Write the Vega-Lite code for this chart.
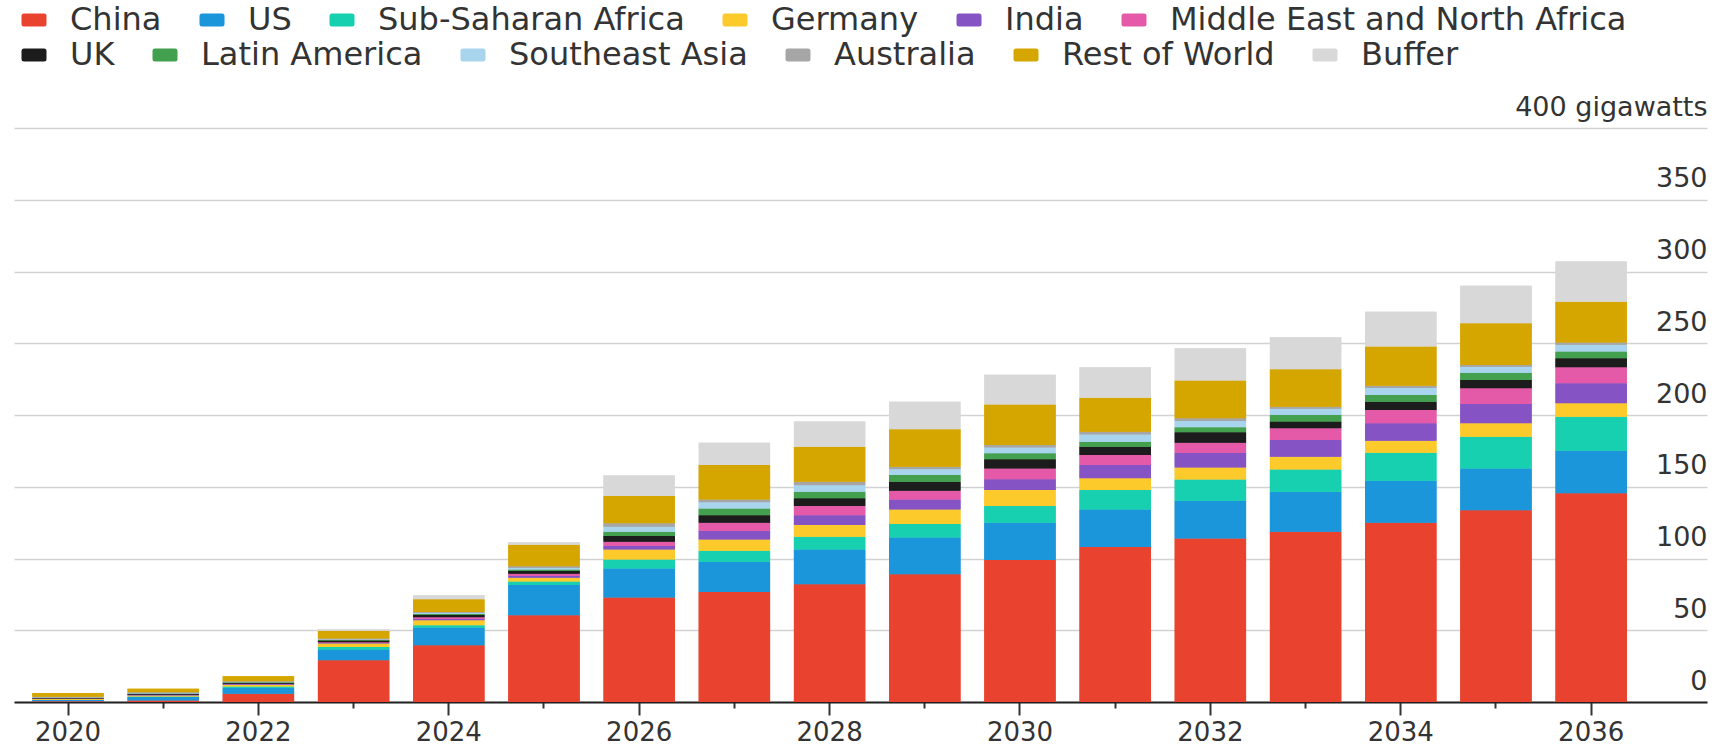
{
  "$schema": "https://vega.github.io/schema/vega-lite/v6.json",
  "width": 1693,
  "height": 574,
  "autosize": {"type": "none"},
  "padding": {"left": 14, "top": 128, "right": 7, "bottom": 45},
  "background": "white",
  "config": {"view": {"stroke": null}, "font": "DejaVu Sans"},
  "data": {"values": [
    {"year":2020,"region":"China","gw":0.6,"k":1},{"year":2020,"region":"US","gw":0.8,"k":2},{"year":2020,"region":"Sub-Saharan Africa","gw":0.1,"k":3},{"year":2020,"region":"Germany","gw":0.6,"k":4},{"year":2020,"region":"India","gw":0.2,"k":5},{"year":2020,"region":"Middle East and North Africa","gw":0.1,"k":6},{"year":2020,"region":"UK","gw":0.4,"k":7},{"year":2020,"region":"Latin America","gw":0.2,"k":8},{"year":2020,"region":"Southeast Asia","gw":0.1,"k":9},{"year":2020,"region":"Australia","gw":0.6,"k":10},{"year":2020,"region":"Rest of World","gw":2.6,"k":11},{"year":2020,"region":"Buffer","gw":0,"k":12},
    {"year":2021,"region":"China","gw":1.0,"k":1},{"year":2021,"region":"US","gw":2.5,"k":2},{"year":2021,"region":"Sub-Saharan Africa","gw":0.3,"k":3},{"year":2021,"region":"Germany","gw":0.8,"k":4},{"year":2021,"region":"India","gw":0.3,"k":5},{"year":2021,"region":"Middle East and North Africa","gw":0.2,"k":6},{"year":2021,"region":"UK","gw":0.6,"k":7},{"year":2021,"region":"Latin America","gw":0.3,"k":8},{"year":2021,"region":"Southeast Asia","gw":0.2,"k":9},{"year":2021,"region":"Australia","gw":0.6,"k":10},{"year":2021,"region":"Rest of World","gw":2.5,"k":11},{"year":2021,"region":"Buffer","gw":0,"k":12},
    {"year":2022,"region":"China","gw":5.8,"k":1},{"year":2022,"region":"US","gw":4.2,"k":2},{"year":2022,"region":"Sub-Saharan Africa","gw":0.8,"k":3},{"year":2022,"region":"Germany","gw":1.3,"k":4},{"year":2022,"region":"India","gw":0.4,"k":5},{"year":2022,"region":"Middle East and North Africa","gw":0.3,"k":6},{"year":2022,"region":"UK","gw":0.6,"k":7},{"year":2022,"region":"Latin America","gw":0.3,"k":8},{"year":2022,"region":"Southeast Asia","gw":0.3,"k":9},{"year":2022,"region":"Australia","gw":0.5,"k":10},{"year":2022,"region":"Rest of World","gw":3.4,"k":11},{"year":2022,"region":"Buffer","gw":0,"k":12},
    {"year":2023,"region":"China","gw":29.1,"k":1},{"year":2023,"region":"US","gw":7.5,"k":2},{"year":2023,"region":"Sub-Saharan Africa","gw":1.8,"k":3},{"year":2023,"region":"Germany","gw":2.3,"k":4},{"year":2023,"region":"India","gw":0.4,"k":5},{"year":2023,"region":"Middle East and North Africa","gw":0.5,"k":6},{"year":2023,"region":"UK","gw":1.2,"k":7},{"year":2023,"region":"Latin America","gw":0.4,"k":8},{"year":2023,"region":"Southeast Asia","gw":0.4,"k":9},{"year":2023,"region":"Australia","gw":0.6,"k":10},{"year":2023,"region":"Rest of World","gw":5.5,"k":11},{"year":2023,"region":"Buffer","gw":0.8,"k":12},
    {"year":2024,"region":"China","gw":39.5,"k":1},{"year":2024,"region":"US","gw":12.5,"k":2},{"year":2024,"region":"Sub-Saharan Africa","gw":1.5,"k":3},{"year":2024,"region":"Germany","gw":3.5,"k":4},{"year":2024,"region":"India","gw":1.0,"k":5},{"year":2024,"region":"Middle East and North Africa","gw":1.0,"k":6},{"year":2024,"region":"UK","gw":1.8,"k":7},{"year":2024,"region":"Latin America","gw":0.6,"k":8},{"year":2024,"region":"Southeast Asia","gw":0.6,"k":9},{"year":2024,"region":"Australia","gw":0.8,"k":10},{"year":2024,"region":"Rest of World","gw":8.8,"k":11},{"year":2024,"region":"Buffer","gw":2.8,"k":12},
    {"year":2025,"region":"China","gw":60.5,"k":1},{"year":2025,"region":"US","gw":21,"k":2},{"year":2025,"region":"Sub-Saharan Africa","gw":2.5,"k":3},{"year":2025,"region":"Germany","gw":2.5,"k":4},{"year":2025,"region":"India","gw":1.3,"k":5},{"year":2025,"region":"Middle East and North Africa","gw":1.5,"k":6},{"year":2025,"region":"UK","gw":2.2,"k":7},{"year":2025,"region":"Latin America","gw":0.9,"k":8},{"year":2025,"region":"Southeast Asia","gw":1.0,"k":9},{"year":2025,"region":"Australia","gw":1.2,"k":10},{"year":2025,"region":"Rest of World","gw":15,"k":11},{"year":2025,"region":"Buffer","gw":1.8,"k":12},
    {"year":2026,"region":"China","gw":72.8,"k":1},{"year":2026,"region":"US","gw":20.2,"k":2},{"year":2026,"region":"Sub-Saharan Africa","gw":6.3,"k":3},{"year":2026,"region":"Germany","gw":7,"k":4},{"year":2026,"region":"India","gw":2.5,"k":5},{"year":2026,"region":"Middle East and North Africa","gw":2.8,"k":6},{"year":2026,"region":"UK","gw":4,"k":7},{"year":2026,"region":"Latin America","gw":3,"k":8},{"year":2026,"region":"Southeast Asia","gw":3.5,"k":9},{"year":2026,"region":"Australia","gw":2.4,"k":10},{"year":2026,"region":"Rest of World","gw":19,"k":11},{"year":2026,"region":"Buffer","gw":14.3,"k":12},
    {"year":2027,"region":"China","gw":76.7,"k":1},{"year":2027,"region":"US","gw":21,"k":2},{"year":2027,"region":"Sub-Saharan Africa","gw":7.7,"k":3},{"year":2027,"region":"Germany","gw":7.9,"k":4},{"year":2027,"region":"India","gw":6,"k":5},{"year":2027,"region":"Middle East and North Africa","gw":5.6,"k":6},{"year":2027,"region":"UK","gw":5.3,"k":7},{"year":2027,"region":"Latin America","gw":4.7,"k":8},{"year":2027,"region":"Southeast Asia","gw":4.3,"k":9},{"year":2027,"region":"Australia","gw":2.0,"k":10},{"year":2027,"region":"Rest of World","gw":23.9,"k":11},{"year":2027,"region":"Buffer","gw":15.6,"k":12},
    {"year":2028,"region":"China","gw":82.1,"k":1},{"year":2028,"region":"US","gw":24.2,"k":2},{"year":2028,"region":"Sub-Saharan Africa","gw":8.8,"k":3},{"year":2028,"region":"Germany","gw":8.2,"k":4},{"year":2028,"region":"India","gw":6.9,"k":5},{"year":2028,"region":"Middle East and North Africa","gw":6.3,"k":6},{"year":2028,"region":"UK","gw":5.4,"k":7},{"year":2028,"region":"Latin America","gw":4.6,"k":8},{"year":2028,"region":"Southeast Asia","gw":4.5,"k":9},{"year":2028,"region":"Australia","gw":2.5,"k":10},{"year":2028,"region":"Rest of World","gw":24.4,"k":11},{"year":2028,"region":"Buffer","gw":17.5,"k":12},
    {"year":2029,"region":"China","gw":89.1,"k":1},{"year":2029,"region":"US","gw":25.6,"k":2},{"year":2029,"region":"Sub-Saharan Africa","gw":9.3,"k":3},{"year":2029,"region":"Germany","gw":10.2,"k":4},{"year":2029,"region":"India","gw":7,"k":5},{"year":2029,"region":"Middle East and North Africa","gw":6,"k":6},{"year":2029,"region":"UK","gw":6.3,"k":7},{"year":2029,"region":"Latin America","gw":4.7,"k":8},{"year":2029,"region":"Southeast Asia","gw":4,"k":9},{"year":2029,"region":"Australia","gw":1.8,"k":10},{"year":2029,"region":"Rest of World","gw":26,"k":11},{"year":2029,"region":"Buffer","gw":19.3,"k":12},
    {"year":2030,"region":"China","gw":99,"k":1},{"year":2030,"region":"US","gw":25.9,"k":2},{"year":2030,"region":"Sub-Saharan Africa","gw":11.6,"k":3},{"year":2030,"region":"Germany","gw":11.2,"k":4},{"year":2030,"region":"India","gw":7.5,"k":5},{"year":2030,"region":"Middle East and North Africa","gw":7.6,"k":6},{"year":2030,"region":"UK","gw":6.3,"k":7},{"year":2030,"region":"Latin America","gw":4.2,"k":8},{"year":2030,"region":"Southeast Asia","gw":4,"k":9},{"year":2030,"region":"Australia","gw":1.8,"k":10},{"year":2030,"region":"Rest of World","gw":28.3,"k":11},{"year":2030,"region":"Buffer","gw":20.6,"k":12},
    {"year":2031,"region":"China","gw":108.1,"k":1},{"year":2031,"region":"US","gw":26.1,"k":2},{"year":2031,"region":"Sub-Saharan Africa","gw":13.5,"k":3},{"year":2031,"region":"Germany","gw":8.2,"k":4},{"year":2031,"region":"India","gw":9.2,"k":5},{"year":2031,"region":"Middle East and North Africa","gw":7,"k":6},{"year":2031,"region":"UK","gw":5.8,"k":7},{"year":2031,"region":"Latin America","gw":3.5,"k":8},{"year":2031,"region":"Southeast Asia","gw":5,"k":9},{"year":2031,"region":"Australia","gw":2,"k":10},{"year":2031,"region":"Rest of World","gw":23.6,"k":11},{"year":2031,"region":"Buffer","gw":21.3,"k":12},
    {"year":2032,"region":"China","gw":114,"k":1},{"year":2032,"region":"US","gw":26.2,"k":2},{"year":2032,"region":"Sub-Saharan Africa","gw":14.9,"k":3},{"year":2032,"region":"Germany","gw":8.4,"k":4},{"year":2032,"region":"India","gw":10.2,"k":5},{"year":2032,"region":"Middle East and North Africa","gw":7,"k":6},{"year":2032,"region":"UK","gw":7.2,"k":7},{"year":2032,"region":"Latin America","gw":3.5,"k":8},{"year":2032,"region":"Southeast Asia","gw":4.5,"k":9},{"year":2032,"region":"Australia","gw":1.8,"k":10},{"year":2032,"region":"Rest of World","gw":26.3,"k":11},{"year":2032,"region":"Buffer","gw":22.5,"k":12},
    {"year":2033,"region":"China","gw":118.6,"k":1},{"year":2033,"region":"US","gw":27.9,"k":2},{"year":2033,"region":"Sub-Saharan Africa","gw":15.6,"k":3},{"year":2033,"region":"Germany","gw":8.8,"k":4},{"year":2033,"region":"India","gw":11.7,"k":5},{"year":2033,"region":"Middle East and North Africa","gw":8.1,"k":6},{"year":2033,"region":"UK","gw":4.7,"k":7},{"year":2033,"region":"Latin America","gw":4.6,"k":8},{"year":2033,"region":"Southeast Asia","gw":4.3,"k":9},{"year":2033,"region":"Australia","gw":1.5,"k":10},{"year":2033,"region":"Rest of World","gw":26.1,"k":11},{"year":2033,"region":"Buffer","gw":22.3,"k":12},
    {"year":2034,"region":"China","gw":124.9,"k":1},{"year":2034,"region":"US","gw":29.3,"k":2},{"year":2034,"region":"Sub-Saharan Africa","gw":19.5,"k":3},{"year":2034,"region":"Germany","gw":8.4,"k":4},{"year":2034,"region":"India","gw":12.1,"k":5},{"year":2034,"region":"Middle East and North Africa","gw":9.3,"k":6},{"year":2034,"region":"UK","gw":5.8,"k":7},{"year":2034,"region":"Latin America","gw":4.7,"k":8},{"year":2034,"region":"Southeast Asia","gw":4.8,"k":9},{"year":2034,"region":"Australia","gw":1.5,"k":10},{"year":2034,"region":"Rest of World","gw":27.4,"k":11},{"year":2034,"region":"Buffer","gw":24.3,"k":12},
    {"year":2035,"region":"China","gw":133.7,"k":1},{"year":2035,"region":"US","gw":29.1,"k":2},{"year":2035,"region":"Sub-Saharan Africa","gw":22.1,"k":3},{"year":2035,"region":"Germany","gw":9.3,"k":4},{"year":2035,"region":"India","gw":13.5,"k":5},{"year":2035,"region":"Middle East and North Africa","gw":10.9,"k":6},{"year":2035,"region":"UK","gw":5.8,"k":7},{"year":2035,"region":"Latin America","gw":5.1,"k":8},{"year":2035,"region":"Southeast Asia","gw":4,"k":9},{"year":2035,"region":"Australia","gw":1.4,"k":10},{"year":2035,"region":"Rest of World","gw":29.1,"k":11},{"year":2035,"region":"Buffer","gw":26,"k":12},
    {"year":2036,"region":"China","gw":145.4,"k":1},{"year":2036,"region":"US","gw":29.7,"k":2},{"year":2036,"region":"Sub-Saharan Africa","gw":23.7,"k":3},{"year":2036,"region":"Germany","gw":9.4,"k":4},{"year":2036,"region":"India","gw":13.9,"k":5},{"year":2036,"region":"Middle East and North Africa","gw":11.2,"k":6},{"year":2036,"region":"UK","gw":6.3,"k":7},{"year":2036,"region":"Latin America","gw":4.6,"k":8},{"year":2036,"region":"Southeast Asia","gw":4.8,"k":9},{"year":2036,"region":"Australia","gw":1.5,"k":10},{"year":2036,"region":"Rest of World","gw":28.5,"k":11},{"year":2036,"region":"Buffer","gw":28,"k":12}
  ]},
  "encoding": {
    "x": {
      "field": "year",
      "type": "ordinal",
      "scale": {"paddingInner": 0.25, "paddingOuter": 0.517, "align": 0.186},
      "axis": {
        "title": null,
        "labelAngle": 0,
        "labelExpr": "datum.value % 2 == 0 ? datum.label : ''",
        "labelFont": "DejaVu Sans",
        "labelFontSize": 26,
        "labelColor": "#333333",
        "labelPadding": 4,
        "domain": true,
        "domainColor": "#222222",
        "domainWidth": 2,
        "ticks": true,
        "tickColor": "#333333",
        "tickWidth": 2,
        "tickSize": {"condition": {"test": "datum.value % 2 == 1", "value": 6}, "value": 13},
        "grid": false
      }
    },
    "y": {
      "field": "gw",
      "type": "quantitative",
      "stack": "zero",
      "scale": {"domain": [0, 400], "nice": false},
      "axis": {
        "title": null,
        "orient": "right",
        "values": [0, 50, 100, 150, 200, 250, 300, 350, 400],
        "labelExpr": "datum.value == 400 ? '400 gigawatts' : datum.label",
        "labelFont": "DejaVu Sans",
        "labelFontSize": 27,
        "labelColor": "#333333",
        "labelAlign": "right",
        "labelBaseline": "alphabetic",
        "labelOffset": -13,
        "labelPadding": 0,
        "labelLimit": 400,
        "labelFlush": false,
        "labelOverlap": false,
        "labelBound": false,
        "domain": false,
        "ticks": false,
        "tickSize": 0,
        "grid": true,
        "gridColor": "#d2d2d2",
        "gridWidth": 1.5
      }
    },
    "order": {"field": "k", "type": "quantitative", "sort": "ascending"}
  },
  "layer": [
    {
      "mark": {"type": "bar"},
      "encoding": {
        "color": {
          "field": "region",
          "type": "nominal",
          "scale": {
            "domain": ["China", "US", "Sub-Saharan Africa", "Germany", "India", "Middle East and North Africa", "UK", "Latin America", "Southeast Asia", "Australia", "Rest of World", "Buffer"],
            "range": ["#e9422f", "#1b96db", "#17d0b0", "#fcca2a", "#8653c4", "#e55aa8", "#1c1c1c", "#42a04e", "#a9d4ee", "#a6a6a6", "#d6a600", "#d8d8d8"]
          },
          "legend": {
            "title": null,
            "values": ["China", "US", "Sub-Saharan Africa", "Germany", "India", "Middle East and North Africa"],
            "orient": "none",
            "legendX": 4,
            "legendY": -124,
            "direction": "horizontal",
            "columns": 6,
            "columnPadding": 34,
            "padding": 0,
            "symbolType": "M-0.8,-0.52H0.8Q1,-0.52 1,-0.32V0.32Q1,0.52 0.8,0.52H-0.8Q-1,0.52 -1,0.32V-0.32Q-1,-0.52 -0.8,-0.52Z",
            "symbolSize": 625,
            "symbolStrokeWidth": 0,
            "symbolOpacity": 1,
            "labelFont": "DejaVu Sans",
            "labelFontSize": 32,
            "labelColor": "#333333",
            "labelOffset": 20,
            "labelLimit": 1000
          }
        }
      }
    },
    {
      "mark": {"type": "bar"},
      "encoding": {
        "fill": {
          "field": "region",
          "type": "nominal",
          "scale": {
            "domain": ["UK", "Latin America", "Southeast Asia", "Australia", "Rest of World", "Buffer", "China", "US", "Sub-Saharan Africa", "Germany", "India", "Middle East and North Africa"],
            "range": ["#1c1c1c", "#42a04e", "#a9d4ee", "#a6a6a6", "#d6a600", "#d8d8d8", "#e9422f", "#1b96db", "#17d0b0", "#fcca2a", "#8653c4", "#e55aa8"]
          },
          "legend": {
            "title": null,
            "values": ["UK", "Latin America", "Southeast Asia", "Australia", "Rest of World", "Buffer"],
            "orient": "none",
            "legendX": 4,
            "legendY": -89,
            "direction": "horizontal",
            "columns": 6,
            "columnPadding": 34,
            "padding": 0,
            "symbolType": "M-0.8,-0.52H0.8Q1,-0.52 1,-0.32V0.32Q1,0.52 0.8,0.52H-0.8Q-1,0.52 -1,0.32V-0.32Q-1,-0.52 -0.8,-0.52Z",
            "symbolSize": 625,
            "symbolStrokeWidth": 0,
            "symbolOpacity": 1,
            "labelFont": "DejaVu Sans",
            "labelFontSize": 32,
            "labelColor": "#333333",
            "labelOffset": 20,
            "labelLimit": 1000
          }
        }
      }
    }
  ]
}
